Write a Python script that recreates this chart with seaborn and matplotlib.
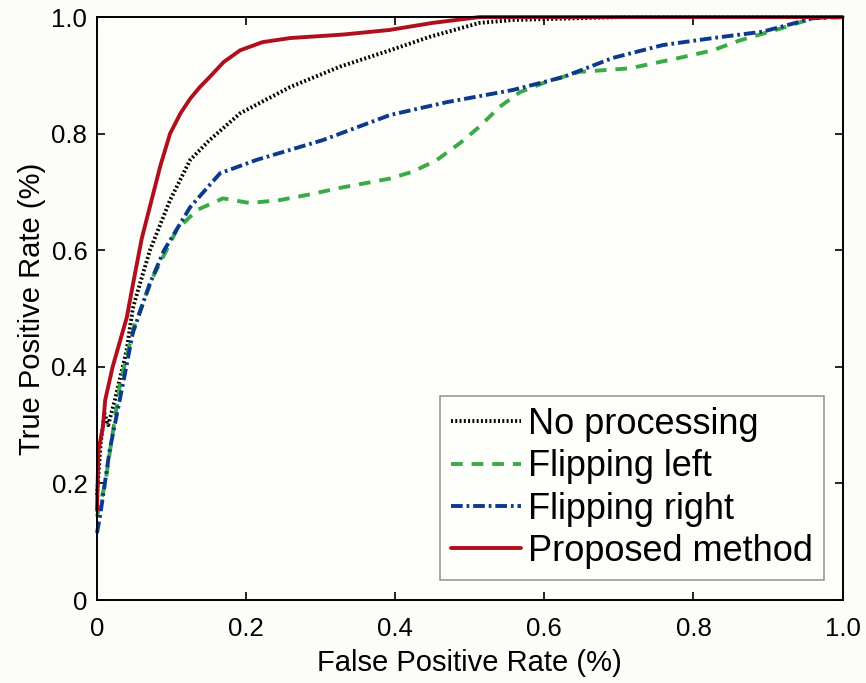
import seaborn as sns
import matplotlib.pyplot as plt

# ROC curves
fpr_none = [0.0, 0.005, 0.01, 0.015, 0.024, 0.04, 0.048, 0.054, 0.071, 0.098, 0.125, 0.151, 0.192, 0.259, 0.326, 0.393, 0.446, 0.513, 0.558, 0.7, 1.0]
tpr_none = [0.18, 0.27, 0.32, 0.30, 0.343, 0.43, 0.50, 0.527, 0.60, 0.686, 0.755, 0.789, 0.835, 0.88, 0.915, 0.943, 0.966, 0.99, 0.995, 1.0, 1.0]

fpr_left = [0.0, 0.011, 0.031, 0.05, 0.075, 0.107, 0.134, 0.169, 0.205, 0.245, 0.282, 0.326, 0.393, 0.424, 0.456, 0.487, 0.513, 0.54, 0.567, 0.603, 0.647, 0.714, 0.781, 0.826, 0.862, 0.916, 0.96, 1.0]
tpr_left = [0.143, 0.20, 0.372, 0.47, 0.554, 0.635, 0.669, 0.689, 0.681, 0.686, 0.695, 0.707, 0.723, 0.735, 0.755, 0.784, 0.812, 0.846, 0.871, 0.889, 0.906, 0.912, 0.93, 0.943, 0.96, 0.98, 0.998, 1.0]

fpr_right = [0.0, 0.004, 0.017, 0.035, 0.048, 0.07, 0.09, 0.125, 0.165, 0.214, 0.303, 0.393, 0.469, 0.558, 0.625, 0.692, 0.759, 0.826, 0.893, 0.96, 1.0]
tpr_right = [0.115, 0.143, 0.257, 0.372, 0.458, 0.54, 0.60, 0.674, 0.732, 0.755, 0.789, 0.832, 0.854, 0.875, 0.897, 0.93, 0.952, 0.964, 0.975, 0.998, 1.0]

fpr_prop = [0.0, 0.002, 0.008, 0.011, 0.021, 0.04, 0.048, 0.06, 0.071, 0.085, 0.098, 0.112, 0.125, 0.138, 0.151, 0.17, 0.192, 0.222, 0.259, 0.33, 0.393, 0.45, 0.513, 0.6, 1.0]
tpr_prop = [0.154, 0.257, 0.297, 0.343, 0.40, 0.485, 0.54, 0.62, 0.675, 0.745, 0.80, 0.835, 0.86, 0.88, 0.897, 0.923, 0.943, 0.957, 0.964, 0.97, 0.978, 0.99, 1.0, 1.0, 1.0]

ticks = [0, 0.2, 0.4, 0.6, 0.8, 1.0]
tick_labels = ["0", "0.2", "0.4", "0.6", "0.8", "1.0"]

sns.set_theme(style="ticks")
plt.rcParams['font.family'] = ['Liberation Sans', 'DejaVu Sans']
plt.rcParams['text.color'] = 'black'
plt.rcParams['axes.labelcolor'] = 'black'
plt.rcParams['xtick.color'] = 'black'
plt.rcParams['ytick.color'] = 'black'

fig = plt.figure(figsize=(8.66, 6.83), dpi=100, facecolor='#fcfcf9')
ax = fig.add_axes([0.112, 0.1215, 0.861, 0.8535])
ax.set_facecolor('#fdfdfa')

lw = 2.8
sns.lineplot(x=fpr_none, y=tpr_none, ax=ax, sort=False, estimator=None, color='black',
             linestyle=(0, (0.5, 0.6)), linewidth=lw, label='No processing')
sns.lineplot(x=fpr_left, y=tpr_left, ax=ax, sort=False, estimator=None, color='#3aaa48',
             linestyle=(0, (3, 2.3)), linewidth=lw, label='Flipping left')
sns.lineplot(x=fpr_right, y=tpr_right, ax=ax, sort=False, estimator=None, color='#0d3a8c',
             linestyle=(0, (3, 1.0, 0.7, 1.0)), linewidth=lw, label='Flipping right')
sns.lineplot(x=fpr_prop, y=tpr_prop, ax=ax, sort=False, estimator=None, color='#b0101e',
             linestyle='-', linewidth=lw, label='Proposed method')
for line in ax.lines:
    line.set_clip_on(False)

ax.set_xlim(0, 1)
ax.set_ylim(0, 1)
ax.set_xticks(ticks)
ax.set_xticklabels(tick_labels)
ax.set_yticks(ticks)
ax.set_yticklabels(tick_labels)
ax.tick_params(direction='in', top=True, right=True, labelsize=18.5, length=6, width=1.2)
ax.tick_params(axis='x', pad=12)
ax.tick_params(axis='y', pad=7)
for s in ax.spines.values():
    s.set_visible(True)
    s.set_color('black')
    s.set_linewidth(1.4)

ax.set_xlabel('False Positive Rate (%)', fontsize=21, labelpad=6)
ax.set_ylabel('True Positive Rate (%)', fontsize=21, labelpad=4)

leg = ax.legend(loc='lower right', bbox_to_anchor=(0.975, 0.035), borderaxespad=0,
                fontsize=26, handlelength=1.95, handletextpad=0.2, labelspacing=0.2,
                borderpad=0.3, frameon=True, fancybox=False, framealpha=1)
leg.get_frame().set_edgecolor('#999999')
leg.get_frame().set_linewidth(1.2)
leg.get_frame().set_facecolor('#fdfdfa')

fig.savefig('out.png', dpi=100, facecolor=fig.get_facecolor())
